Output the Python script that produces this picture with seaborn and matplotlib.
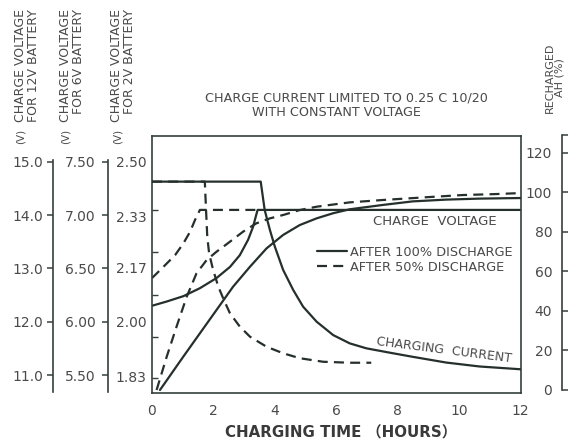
import matplotlib
matplotlib.use('Agg')
import matplotlib.pyplot as plt
import seaborn as sns
import pandas as pd
from matplotlib.lines import Line2D
from matplotlib.ticker import NullLocator, FixedLocator

sns.set_theme(style='white')
plt.rcParams['font.family'] = ['DejaVu Sans', 'Noto Sans CJK SC']

# ---------------- data ----------------
# charge voltage, 12 V battery scale (V)
volt100_h = [0.0, 0.48, 1.02, 1.56, 2.10, 2.54, 2.86, 3.13, 3.29, 3.40, 3.44, 12.0]
volt100_v = [12.30, 12.38, 12.48, 12.63, 12.82, 13.03, 13.25, 13.54, 13.78, 14.02, 14.10, 14.10]
volt50_h = [0.0, 0.37, 0.75, 1.02, 1.24, 1.40, 1.56, 3.45]
volt50_v = [12.82, 13.03, 13.25, 13.47, 13.69, 13.91, 14.10, 14.10]

# recharged AH (%)
ah100_h = [0.26, 1.02, 1.56, 2.10, 2.64, 3.19, 3.73, 4.27, 4.81, 5.36, 5.90, 6.44, 7.52, 8.49, 9.59, 10.67, 12.0]
ah100_p = [0, 16.9, 28.7, 40.5, 52.3, 62.4, 71.7, 78.5, 83.5, 86.9, 89.5, 91.5, 93.7, 95.5, 96.4, 96.9, 97.2]
ah50_h = [0.15, 0.48, 0.80, 1.13, 1.45, 1.78, 2.10, 2.54, 2.97, 3.40, 3.84, 4.27, 4.81, 5.36, 6.44, 7.52,
          9.04, 10.11, 11.2, 12.0]
ah50_p = [0, 16.9, 32.1, 47.2, 59.1, 65.8, 70.0, 75.1, 80.2, 84.4, 86.9, 88.6, 91.1, 92.8, 95.0, 96.2,
          97.7, 98.7, 99.2, 99.7]

# charging current (drawn on the AH % scale)
cur100_h = [0.0, 3.54, 3.67, 3.84, 4.0, 4.27, 4.60, 4.92, 5.36, 5.90, 6.44, 6.98, 7.74, 8.49, 9.58, 10.67, 12.0]
cur100_p = [105.5, 105.5, 91.1, 81.0, 72.6, 60.8, 50.6, 42.2, 34.6, 27.8, 23.6, 21.1, 18.9, 16.8, 13.9, 11.9, 10.5]
cur50_h = [0.0, 1.72, 1.76, 1.80, 1.86, 1.99, 2.16, 2.34, 2.54, 2.86, 3.19, 3.73, 4.27, 4.81, 5.57, 6.44, 7.14]
cur50_p = [105.5, 105.5, 91.1, 77.6, 69.2, 60.8, 52.3, 45.6, 38.8, 32.1, 27.0, 21.9, 18.6, 16.1, 14.3, 13.8, 13.8]

x_ticks = [0, 2, 4, 6, 8, 10, 12]
v12_ticks = [15.0, 14.0, 13.0, 12.0, 11.0]
v6_ticks = [7.50, 7.00, 6.50, 6.00, 5.50]
v2_ticks = [2.50, 2.33, 2.17, 2.00, 1.83]
ah_ticks = [0, 20, 40, 60, 80, 100, 120]
inner_ticks_v12 = [14.10, 13.31, 12.51, 11.71, 10.94]

# ---------------- layout ----------------
W, H = 570, 441
fig = plt.figure(figsize=(W / 100, H / 100), dpi=100)
fig.patch.set_facecolor('white')

LINE = '#25302c'
SPINE = '#34403b'
TXT = '#4a4a4a'

left, right, top, bot = 152, 520.5, 136, 393
ax_pos = [left / W, 1 - bot / H, (right - left) / W, (bot - top) / H]
VMIN, VMAX = 10.662, 15.488
PMIN, PMAX = -1.52, 128.6


def v_at(ypix):
    return VMAX - (ypix - top) / (bot - top) * (VMAX - VMIN)


def p_at(ypix):
    return PMAX - (ypix - top) / (bot - top) * (PMAX - PMIN)


ax = fig.add_axes(ax_pos)
ax.set_xlim(0, 12)
ax.set_ylim(VMIN, VMAX)
for s in ax.spines.values():
    s.set_color(SPINE)
    s.set_linewidth(1.2)
ax.set_xticks(x_ticks)
ax.set_xticklabels([str(t) for t in x_ticks])
ax.tick_params(axis='x', length=0, pad=8, labelsize=10, colors=TXT)
ax.set_yticks([v * 6 for v in v2_ticks])
ax.set_yticklabels([f'{v:.2f}' for v in v2_ticks])
ax.tick_params(axis='y', which='major', length=0, pad=4, labelsize=10, colors=TXT)
ax.set_yticks(inner_ticks_v12, minor=True)
ax.tick_params(axis='y', which='minor', direction='in', length=4, width=1, color=SPINE, left=True)

tw = ax.twinx()
tw.set_ylim(PMIN, PMAX)
tw.axis('off')

lw = 1.6
dash = (0, (4.5, 2.8))
sns.lineplot(x=volt100_h, y=volt100_v, ax=ax, color=LINE, lw=lw, sort=False, estimator=None)
sns.lineplot(x=volt50_h, y=volt50_v, ax=ax, color=LINE, lw=lw, linestyle=dash, sort=False, estimator=None)
sns.lineplot(x=ah100_h, y=ah100_p, ax=tw, color=LINE, lw=lw, sort=False, estimator=None)
sns.lineplot(x=ah50_h, y=ah50_p, ax=tw, color=LINE, lw=lw, linestyle=dash, sort=False, estimator=None)
sns.lineplot(x=cur100_h, y=cur100_p, ax=tw, color=LINE, lw=lw, sort=False, estimator=None)
sns.lineplot(x=cur50_h, y=cur50_p, ax=tw, color=LINE, lw=lw, linestyle=dash, sort=False, estimator=None)
ax.set_xlabel('')
ax.set_ylabel('')

# in-plot annotations
ax.text(7.19, 13.88, 'CHARGE  VOLTAGE', ha='left', va='center', fontsize=9.5, color=TXT)
tw.text(7.32, 24.3, 'CHARGING  CURRENT', ha='left', va='center', fontsize=9, color=TXT,
        rotation=-7.3, rotation_mode='anchor')
handles = [Line2D([], [], color=LINE, lw=lw),
           Line2D([], [], color=LINE, lw=lw, linestyle=dash)]
ax.legend(handles, ['AFTER 100% DISCHARGE', 'AFTER 50% DISCHARGE'],
          loc='upper left', bbox_to_anchor=((317 - left) / (right - left), (bot - 246) / (bot - top)),
          frameon=False, fontsize=9.3, handlelength=2.3, handletextpad=0.25,
          labelspacing=0.15, borderpad=0, borderaxespad=0, labelcolor=TXT)


# side axes (12 V, 6 V, AH %): narrow axes whose left spine is the scale line
def side_axis(xpix, ytop, ybot, lims, ticks, fmt, pad, direction, length):
    a = fig.add_axes([xpix / W, 1 - ybot / H, 0.001, (ybot - ytop) / H])
    a.set_ylim(*lims)
    a.patch.set_visible(False)
    for k in ('right', 'top', 'bottom'):
        a.spines[k].set_visible(False)
    sp = a.spines['left']
    sp.set_color(SPINE)
    sp.set_linewidth(1.2)
    a.xaxis.set_visible(False)
    a.yaxis.set_major_locator(FixedLocator(ticks))
    a.yaxis.set_minor_locator(NullLocator())
    a.set_yticklabels([fmt.format(t) for t in ticks])
    a.tick_params(axis='y', which='major', left=True, right=False, labelleft=True, labelright=False,
                  direction=direction, length=length, width=1.1, pad=pad, labelsize=10,
                  colors=TXT, color=SPINE)
    return a


a12 = side_axis(53, 160, 392, (v_at(392), v_at(160)), v12_ticks, '{:.1f}', 2.5, 'out', 4.5)
a6 = side_axis(108, 160, 392, (v_at(392) / 2, v_at(160) / 2), v6_ticks, '{:.2f}', 5, 'out', 4)
ar = side_axis(562, 135, 390, (p_at(390), p_at(135)), ah_ticks, '{:d}', 7, 'in', 4.5)
ar.yaxis.set_minor_locator(FixedLocator([p_at(135.5)]))
ar.tick_params(axis='y', which='minor', left=True, right=False, direction='in', length=4.5,
               width=1.1, color=SPINE)

# headers
hdr = dict(rotation=90, fontsize=9, color=TXT, multialignment='right', linespacing=0.95)
for xc, xv, txt in [(27, 21, 'CHARGE VOLTAGE\nFOR 12V BATTERY'),
                    (72, 66, 'CHARGE VOLTAGE\nFOR 6V BATTERY'),
                    (123, 117.5, 'CHARGE VOLTAGE\nFOR 2V BATTERY')]:
    fig.text(xc / W, 1 - 9 / H, txt, ha='center', va='top', **hdr)
    fig.text(xv / W, 1 - 136 / H, '(V)', ha='center', va='center', rotation=90,
             fontsize=7.5, color=TXT)
fig.text(555 / W, 1 - 78 / H, 'RECHARGED\nAH (%)', ha='center', va='center',
         rotation=90, fontsize=8, color=TXT, multialignment='center', linespacing=1.0)

fig.text(346 / W, 1 - 98 / H, 'CHARGE CURRENT LIMITED TO 0.25 C 10/20', ha='center', va='center',
         fontsize=9.2, color=TXT)
fig.text(336 / W, 1 - 112 / H, 'WITH CONSTANT VOLTAGE', ha='center', va='center',
         fontsize=9.2, color=TXT)
fig.text(341 / W, 1 - 433 / H, 'CHARGING TIME （HOURS）', ha='center', va='center',
         fontsize=10.8, fontweight='bold', color='#3a3a3a')

fig.savefig('out.png', dpi=100, facecolor='white')
